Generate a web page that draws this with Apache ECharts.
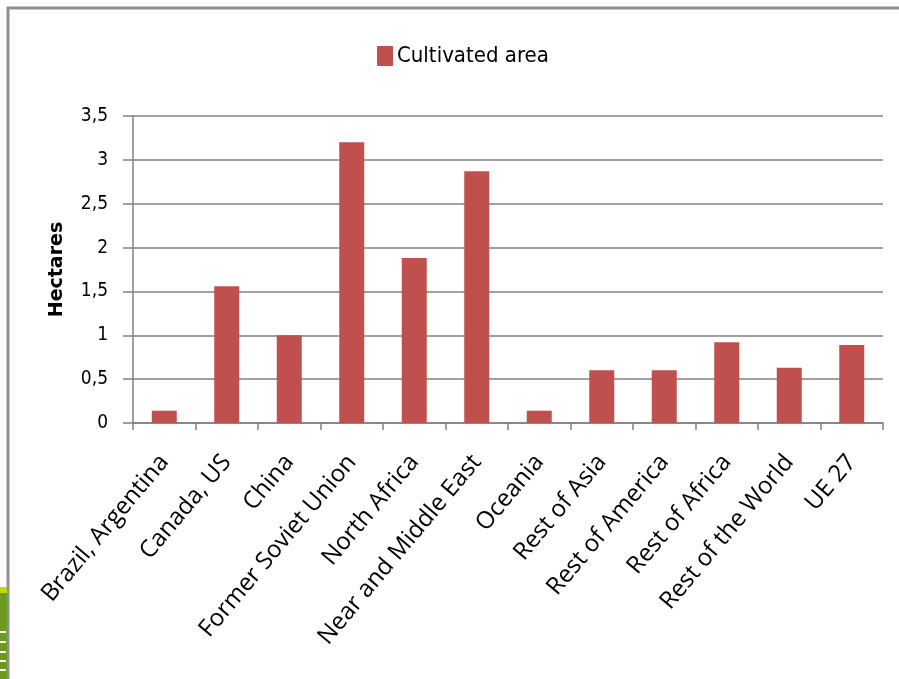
<!DOCTYPE html>
<html>
<head>
<meta charset="utf-8">
<script src="https://cdn.jsdelivr.net/npm/echarts@6/dist/echarts.min.js"></script>
<style>
  html, body { margin: 0; padding: 0; background: #ffffff; }
  #chart { width: 899px; height: 679px; }
</style>
</head>
<body>
<div id="chart"></div>
<script>
// Cultivated area per region (hectares)
const categories = [
  'Brazil, Argentina', 'Canada, US', 'China', 'Former Soviet Union',
  'North Africa', 'Near and Middle East', 'Oceania', 'Rest of Asia',
  'Rest of America', 'Rest of Africa', 'Rest of the World', 'UE 27'
];
const cultivatedArea = [0.14, 1.56, 1.0, 3.2, 1.88, 2.87, 0.14, 0.6, 0.6, 0.92, 0.63, 0.89];
const seriesName = 'Cultivated area';
const yAxisName = 'Hectares';

const chart = echarts.init(document.getElementById('chart'), null, { renderer: 'canvas' });

const gridColor = '#808080';
const narrowFont = '"DejaVu Sans Condensed", "Liberation Sans", sans-serif';

chart.setOption({
  backgroundColor: '#ffffff',
  animation: false,
  legend: {
    data: [{ name: seriesName, icon: 'rect' }],
    top: 45,
    left: 377,
    padding: 0,
    itemWidth: 16,
    itemHeight: 20,
    itemGap: 6,
    textStyle: { fontFamily: narrowFont, fontSize: 22, color: '#000', padding: [0, 0, 0, -1] }
  },
  grid: { left: 133, right: 16, top: 116, bottom: 256 },
  xAxis: {
    type: 'category',
    data: categories,
    boundaryGap: true,
    axisLine: { lineStyle: { color: gridColor, width: 1.5 } },
    axisTick: { show: true, length: 7, lineStyle: { color: gridColor, width: 1.5 } },
    axisLabel: {
      interval: 0,
      rotate: 50,
      margin: 35,
      fontFamily: 'Open Sans',
      fontSize: 24,
      color: '#000'
    }
  },
  yAxis: {
    type: 'value',
    min: 0,
    max: 3.5,
    interval: 0.5,
    name: yAxisName,
    nameLocation: 'middle',
    nameGap: 66,
    nameRotate: 90,
    nameTextStyle: { fontFamily: 'DejaVu Sans', fontSize: 19, fontWeight: 'bold', color: '#000' },
    axisLine: { show: true, lineStyle: { color: gridColor, width: 1.5 } },
    axisTick: { show: true, length: 10, lineStyle: { color: gridColor, width: 1.5 } },
    axisLabel: {
      margin: 25,
      fontFamily: narrowFont,
      fontSize: 19,
      color: '#000',
      formatter: v => String(v).replace('.', ',')
    },
    splitLine: { show: true, lineStyle: { color: gridColor, width: 1.5 } }
  },
  series: [{
    name: seriesName,
    type: 'bar',
    data: cultivatedArea,
    barWidth: 25,
    itemStyle: { color: '#C0504D' }
  }],
  graphic: [
    // slide frame
    {
      type: 'polyline',
      silent: true,
      shape: { points: [[8, 679], [8, 8], [899, 8]] },
      style: { stroke: '#8f8f8f', lineWidth: 3, fill: null }
    },
    // green corner ornament
    { type: 'rect', silent: true, shape: { x: 0, y: 587, width: 7, height: 6 }, style: { fill: '#c5d800' } },
    { type: 'rect', silent: true, shape: { x: 0, y: 593, width: 7, height: 86 }, style: { fill: '#6b9a1e' } },
    { type: 'rect', silent: true, shape: { x: 0, y: 631, width: 6, height: 2 }, style: { fill: '#ffffff' } },
    { type: 'rect', silent: true, shape: { x: 0, y: 641, width: 6, height: 2 }, style: { fill: '#ffffff' } },
    { type: 'rect', silent: true, shape: { x: 0, y: 651, width: 6, height: 2 }, style: { fill: '#ffffff' } },
    { type: 'rect', silent: true, shape: { x: 0, y: 660, width: 6, height: 2 }, style: { fill: '#ffffff' } },
    { type: 'rect', silent: true, shape: { x: 0, y: 669, width: 6, height: 2 }, style: { fill: '#ffffff' } }
  ]
});
</script>
</body>
</html>
